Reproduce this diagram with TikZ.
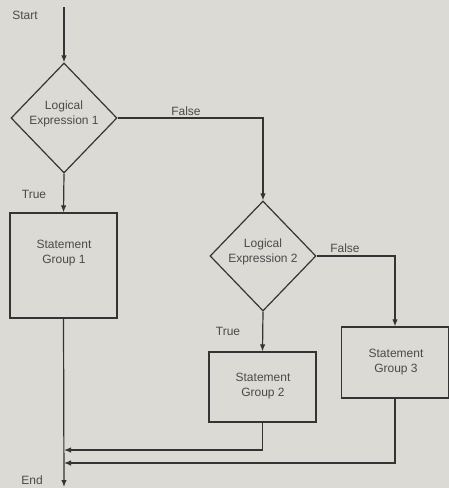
\documentclass[tikz,border=0pt]{standalone}
\usepackage{fontspec}
\setmainfont{Liberation Sans}
\usetikzlibrary{shapes.geometric,arrows.meta}
\definecolor{paper}{HTML}{DCDAD4}
\definecolor{ink}{HTML}{343434}
\definecolor{txt}{HTML}{4A4A4A}
\begin{document}
\begin{tikzpicture}[x=1pt,y=-1pt,
  flow/.style={draw=ink,line width=1.2pt},
  arr/.style={flow,-{Latex[length=7pt,width=5.5pt]}},
  decision/.style={flow,diamond,inner sep=0pt,minimum width=106pt,minimum height=110pt},
  stmtbox/.style={flow,rectangle,inner sep=0pt,minimum width=107pt},
  lbl/.style={text=txt,font=\fontsize{12}{14.5}\selectfont,align=center,inner sep=0pt}]
  % page
  \fill[paper] (0,0) rectangle (449,488);
  \useasboundingbox (0,0) rectangle (449,488);

  % shapes
  \node[decision] (d1) at (64,118) {};
  \node[lbl] (d1t) at (64,114) {Logical\\Expression 1};
  \node[decision] (d2) at (263,256) {};
  \node[lbl] (d2t) at (263,252) {Logical\\Expression 2};
  \node[stmtbox,minimum height=105pt] (b1) at (63.5,265.5) {};
  \node[lbl] (b1t) at (64,253) {Statement\\Group 1};
  \node[stmtbox,minimum height=70pt] (b2) at (262.5,387) {};
  \node[lbl] (b2t) at (263,386) {Statement\\Group 2};
  \node[stmtbox,minimum height=71pt] (b3) at (395,362.5) {};
  \node[lbl] (b3t) at (396,362) {Statement\\Group 3};

  % free ends
  \coordinate (start) at (64,7);
  \coordinate (stop) at (64,487);
  \coordinate (j2) at (64,450);
  \coordinate (j3) at (64,463);

  % connectors
  \draw[arr] (start) -- (d1.north);
  \draw[arr] (d1.south) -- (b1.north);
  \draw[arr] (d1.east) -| (d2.north);
  \draw[arr] (d2.south) -- (b2.north);
  \draw[arr] (d2.east) -| (b3.north);
  \draw[arr] (b1.south) -- (stop);
  \draw[arr] (b2.south) |- (j2);
  \draw[arr] (b3.south) |- (j3);

  % labels
  \node[lbl] (lstart) at (25,15) {Start};
  \node[lbl] (ltrue1) at (34,194) {True};
  \node[lbl] (lfalse1) at (186,111) {False};
  \node[lbl] (ltrue2) at (228,331) {True};
  \node[lbl] (lfalse2) at (345,248) {False};
  \node[lbl] (lend) at (32,480) {End};
\end{tikzpicture}
\end{document}
